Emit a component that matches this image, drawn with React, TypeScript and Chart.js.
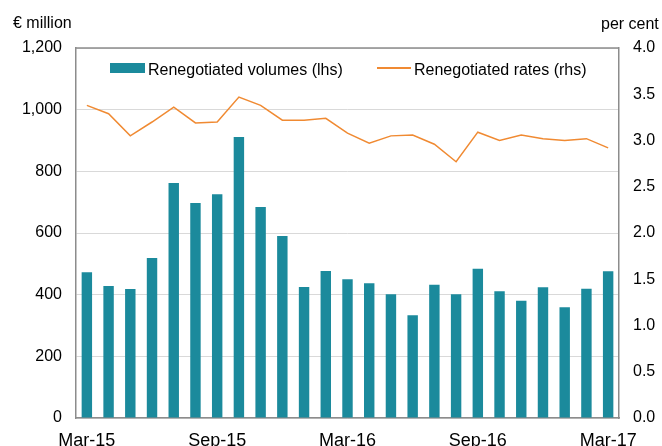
import React, { useEffect, useRef } from "react";
import { Chart, registerables } from "chart.js";

Chart.register(...registerables);

const months = [
  "Mar-15", "Apr-15", "May-15", "Jun-15", "Jul-15", "Aug-15", "Sep-15", "Oct-15", "Nov-15", "Dec-15",
  "Jan-16", "Feb-16", "Mar-16", "Apr-16", "May-16", "Jun-16", "Jul-16", "Aug-16", "Sep-16", "Oct-16",
  "Nov-16", "Dec-16", "Jan-17", "Feb-17", "Mar-17",
];

const shownLabels = ["Mar-15", "Sep-15", "Mar-16", "Sep-16", "Mar-17"];

const volumes = [
  473, 428, 418, 519, 762, 697, 726, 911, 684, 590,
  425, 477, 450, 437, 401, 333, 432, 401, 484, 411,
  380, 424, 359, 419, 476,
];

const rates = [
  3.38, 3.29, 3.05, 3.2, 3.36, 3.19, 3.2, 3.47, 3.38, 3.22,
  3.22, 3.24, 3.08, 2.97, 3.05, 3.06, 2.96, 2.77, 3.09, 3.0,
  3.06, 3.02, 3.0, 3.02, 2.92,
];

const TEAL = "#1B8A9C";
const ORANGE = "#F08A32";
const FONT = "'Liberation Sans', Arial, sans-serif";

export default function App() {
  const ref = useRef<HTMLCanvasElement | null>(null);

  useEffect(() => {
    if (!ref.current) return;
    const frame = {
      id: "frame",
      afterDraw(chart: any) {
        const { ctx, chartArea } = chart;
        ctx.save();
        ctx.strokeStyle = "#8c8c8c";
        ctx.lineWidth = 1.5;
        ctx.beginPath();
        ctx.moveTo(chartArea.left, chartArea.top);
        ctx.lineTo(chartArea.right, chartArea.top);
        ctx.stroke();
        ctx.restore();
      },
    };
    const chart = new Chart(ref.current, {
      type: "bar",
      data: {
        labels: months,
        datasets: [
          {
            type: "line",
            label: "Renegotiated rates (rhs)",
            data: rates,
            yAxisID: "y1",
            borderColor: ORANGE,
            borderWidth: 1.5,
            pointRadius: 0,
            tension: 0,
            order: 1,
          } as any,
          {
            type: "bar",
            label: "Renegotiated volumes (lhs)",
            data: volumes,
            yAxisID: "y",
            backgroundColor: TEAL,
            barPercentage: 0.48,
            categoryPercentage: 1,
            order: 2,
          },
        ],
      },
      options: {
        responsive: false,
        animation: false,
        layout: { padding: { top: 48, left: 0, right: 0, bottom: 0 } },
        plugins: {
          legend: { display: false },
          title: { display: false },
          tooltip: { enabled: false },
        },
        scales: {
          x: {
            offset: true,
            grid: { display: false, drawTicks: false },
            border: { color: "#8c8c8c", width: 1.5 },
            ticks: {
              autoSkip: false,
              maxRotation: 0,
              minRotation: 0,
              padding: 12,
              color: "#000",
              font: { family: FONT, size: 18 },
              callback: (_v: any, i: number) =>
                shownLabels.includes(months[i]) ? months[i] : "",
            },
            afterFit: (s: any) => {
              s.height = 28;
            },
          },
          y: {
            position: "left",
            min: 0,
            max: 1200,
            grid: { color: "#d9d9d9", lineWidth: 1, drawTicks: false },
            border: { color: "#8c8c8c", width: 1.5 },
            ticks: {
              stepSize: 200,
              padding: 14,
              color: "#000",
              font: { family: FONT, size: 16 },
              callback: (v: any) => Number(v).toLocaleString("en-US"),
            },
            afterFit: (s: any) => {
              s.width = 76;
            },
          },
          y1: {
            position: "right",
            min: 0,
            max: 4,
            grid: { display: false, drawTicks: false },
            border: { color: "#8c8c8c", width: 1.5 },
            ticks: {
              stepSize: 0.5,
              padding: 14,
              color: "#000",
              font: { family: FONT, size: 16 },
              callback: (v: any) => Number(v).toFixed(1),
            },
            afterFit: (s: any) => {
              s.width = 43;
            },
          },
        },
      },
      plugins: [frame],
    } as any);
    return () => chart.destroy();
  }, []);

  const txt: React.CSSProperties = {
    position: "absolute",
    fontFamily: FONT,
    fontSize: 16,
    lineHeight: "16px",
    color: "#000",
    whiteSpace: "nowrap",
  };

  return (
    <div
      style={{
        position: "absolute",
        left: 0,
        top: 0,
        width: 662,
        height: 446,
        overflow: "hidden",
        background: "#fff",
      }}
    >
      <canvas ref={ref} width={662} height={446} style={{ display: "block" }} />
      <div style={{ ...txt, left: 13, top: 15 }}>€ million</div>
      <div style={{ ...txt, left: 601, top: 16 }}>per cent</div>
      <div
        style={{
          position: "absolute",
          left: 110,
          top: 63,
          width: 35,
          height: 10,
          background: TEAL,
        }}
      />
      <div style={{ ...txt, left: 148, top: 62 }}>Renegotiated volumes (lhs)</div>
      <div
        style={{
          position: "absolute",
          left: 377,
          top: 67,
          width: 34,
          height: 1.5,
          background: ORANGE,
        }}
      />
      <div style={{ ...txt, left: 414, top: 62 }}>Renegotiated rates (rhs)</div>
    </div>
  );
}
